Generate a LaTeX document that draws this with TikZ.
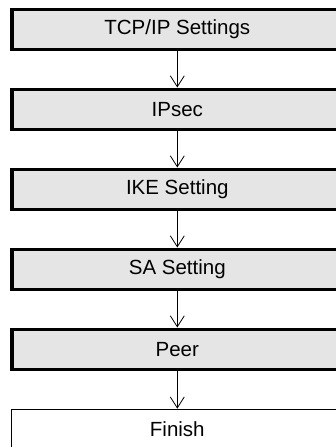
\documentclass[tikz,border=0pt]{standalone}
\usepackage{fontspec}
\setmainfont{Liberation Sans}
\usetikzlibrary{arrows.meta,positioning}

\begin{document}
\begin{tikzpicture}[x=1pt, y=1pt,
    step box/.style={draw, line width=3.6pt, fill=black!10, minimum width=331pt, minimum height=40pt, inner sep=0pt, font=\fontsize{20.5}{24}\selectfont},
    end box/.style={draw, line width=1.3pt, fill=white, minimum width=331pt, minimum height=40pt, inner sep=0pt, font=\fontsize{20.5}{24}\selectfont},
    arr/.style={-{Straight Barb[length=11pt,width=14pt,line width=0.8pt]}, line width=0.8pt}
]
\useasboundingbox (0,0) rectangle (336,-447);
\node[step box] (tcp) at (177.3,-29.3) {TCP/IP Settings};
\node[step box] (ipsec) at (177.3,-109.3) {IPsec};
\node[step box] (ike) at (177.3,-189.3) {IKE Setting};
\node[step box] (sa) at (177.3,-269.3) {SA Setting};
\node[step box] (peer) at (177.3,-349.3) {Peer};
\node[end box] (finish) at (177.3,-429.3) {Finish};

\draw[arr] (tcp) -- (ipsec);
\draw[arr] (ipsec) -- (ike);
\draw[arr] (ike) -- (sa);
\draw[arr] (sa) -- (peer);
\draw[arr] (peer) -- (finish);
\end{tikzpicture}
\end{document}
